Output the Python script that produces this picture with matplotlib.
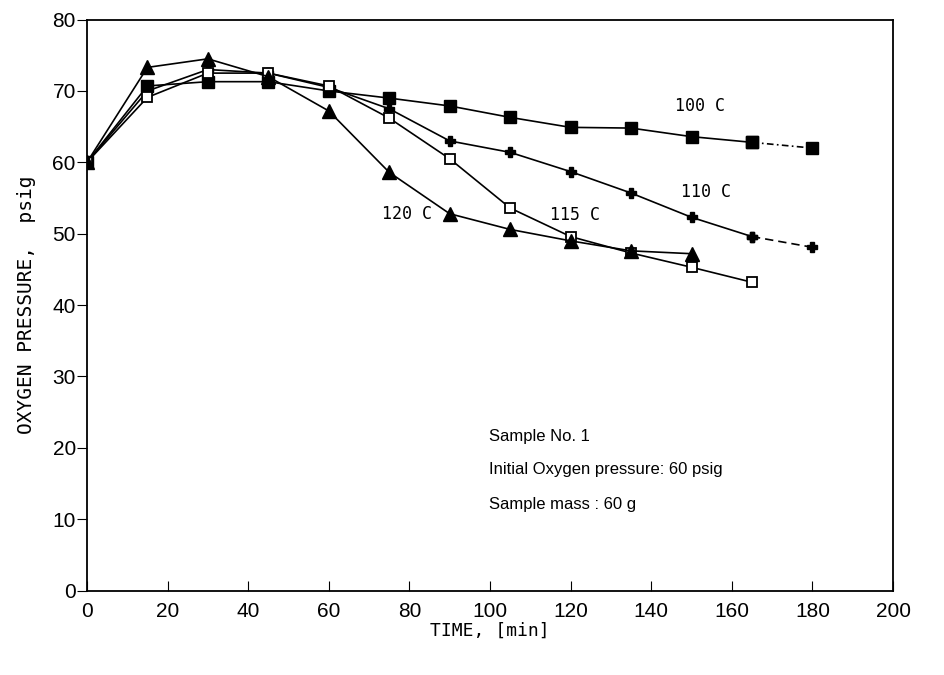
import matplotlib.pyplot as plt

# readings (time in min, oxygen pressure in psig)
t_100 = [0, 15, 30, 45, 60, 75, 90, 105, 120, 135, 150, 165, 180]
p_100 = [60, 70.7, 71.3, 71.3, 70.0, 69.0, 67.9, 66.3, 64.9, 64.8, 63.6, 62.8, 62.0]

t_110 = [0, 15, 30, 45, 60, 75, 90, 105, 120, 135, 150, 165, 180]
p_110 = [60, 70.0, 73.0, 72.5, 70.5, 67.5, 63.0, 61.4, 58.7, 55.7, 52.3, 49.6, 48.1]

t_115 = [0, 15, 30, 45, 60, 75, 90, 105, 120, 135, 150, 165]
p_115 = [60, 69.1, 72.5, 72.5, 70.7, 66.2, 60.5, 53.6, 49.6, 47.3, 45.3, 43.2]

t_120 = [0, 15, 30, 45, 60, 75, 90, 105, 120, 135, 150]
p_120 = [60, 73.3, 74.5, 72.0, 67.2, 58.6, 52.8, 50.6, 49.0, 47.6, 47.2]

series_labels = ["100 C", "110 C", "115 C", "120 C"]
label_pos = [(152, 67.9), (153.6, 55.8), (121, 52.6), (79.5, 52.8)]

x_ticks = list(range(0, 201, 20))
y_ticks = list(range(0, 81, 10))

fig = plt.figure(figsize=(9.45, 6.75), dpi=100)
ax = fig.add_axes([0.092, 0.125, 0.853, 0.846])

ax.plot(t_100[:-1], p_100[:-1], color="black", lw=1.2, marker="s", ms=8, mfc="black")
ax.plot(t_100[-2:], p_100[-2:], color="black", lw=1.2, ls=(0, (4, 2, 1, 2)),
        marker="s", ms=8, mfc="black")

ax.plot(t_110[:-1], p_110[:-1], color="black", lw=1.2, marker="P", ms=7, mfc="black")
ax.plot(t_110[-2:], p_110[-2:], color="black", lw=1.2, ls=(0, (5, 3)),
        marker="P", ms=7, mfc="black")

ax.plot(t_115, p_115, color="black", lw=1.2, marker="s", ms=7, mfc="white", mew=1.3)
ax.plot(t_120, p_120, color="black", lw=1.2, marker="^", ms=10, mfc="black")

for lab, (lx, ly) in zip(series_labels, label_pos):
    ax.text(lx, ly, lab, ha="center", va="center", fontsize=12,
            family="DejaVu Sans Mono")

ax.text(99.7, 21.6, "Sample No. 1", fontsize=12, family="Liberation Sans", va="center")
ax.text(99.7, 16.9, "Initial Oxygen pressure: 60 psig", fontsize=12,
        family="Liberation Sans", va="center")
ax.text(99.7, 12.1, "Sample mass : 60 g", fontsize=12, family="Liberation Sans",
        va="center")

ax.set_xlim(0, 200)
ax.set_ylim(0, 80)
ax.set_xticks(x_ticks)
ax.set_yticks(y_ticks)
ax.tick_params(axis="x", direction="in", length=7, labelsize=15, pad=8)
ax.tick_params(axis="y", direction="out", length=7, labelsize=15, pad=1)
for lab in ax.get_xticklabels() + ax.get_yticklabels():
    lab.set_family("Liberation Sans")
for s in ax.spines.values():
    s.set_linewidth(1.3)

ax.set_xlabel("TIME, [min]", fontsize=13, family="DejaVu Sans Mono", labelpad=1)
ax.set_ylabel("OXYGEN PRESSURE,  psig", fontsize=14, family="DejaVu Sans Mono",
              labelpad=12)

fig.savefig("out.png", dpi=100)
